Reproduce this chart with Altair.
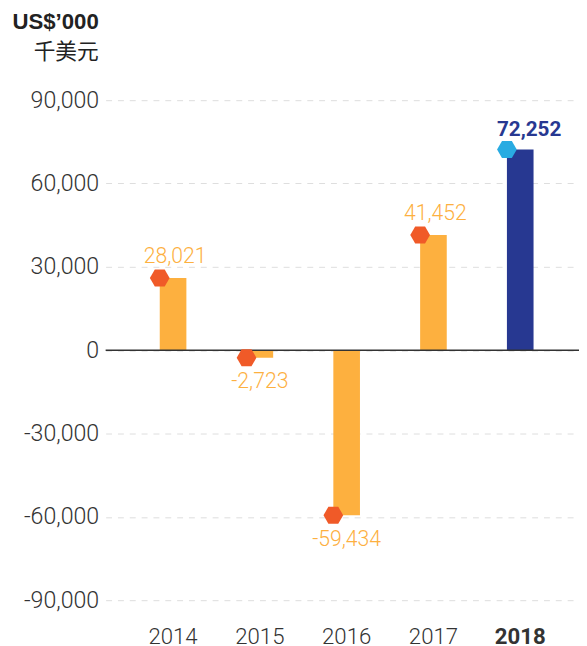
import altair as alt
import pandas as pd

years = ["2014", "2015", "2016", "2017", "2018"]
values = [26000, -2723, -59434, 41452, 72252]
labels = ["28,021", "-2,723", "-59,434", "41,452", "72,252"]
current = [False, False, False, False, True]
y_ticks = [-90000, -60000, -30000, 0, 30000, 60000, 90000]

ORANGE = "#FDB03F"
RED = "#F05A28"
NAVY = "#273891"
BLUE = "#29ABE2"
TXT = "#333333"
FONT = "Roboto"

df = pd.DataFrame({"year": years, "value": values, "label": labels, "current": current})

HEX = "M-1,0 L-0.5,-0.866 L0.5,-0.866 L1,0 L0.5,0.866 L-0.5,0.866 Z"

x = alt.X(
    "year:N", sort=years, title=None,
    scale=alt.Scale(paddingInner=0, paddingOuter=0.227, align=0.61),
    axis=alt.Axis(
        labelAngle=0, domain=False, ticks=False, grid=False, labelPadding=26,
        labelFont=FONT, labelFontSize=22.5, labelColor=TXT,
        labelFontWeight=alt.condition("datum.value == '2018'", alt.value("bold"), alt.value(300)),
    ),
)
y = alt.Y(
    "value:Q", title=None,
    scale=alt.Scale(domain=[-90000, 90000], nice=False, zero=False),
    axis=alt.Axis(
        values=y_ticks, domain=False, ticks=False, labelPadding=7,
        labelExpr="(datum.value < 0 ? '-' : '') + format(abs(datum.value), ',')",
        labelFont=FONT, labelFontSize=23.5, labelFontWeight=300, labelColor=TXT,
        grid=True, gridDash=[6, 6], gridColor="#dddddd", gridWidth=1,
    ),
)

base = alt.Chart(df)

bars = base.mark_bar(size=27).encode(
    x=x, y=y,
    color=alt.condition("datum.current", alt.value(NAVY), alt.value(ORANGE)),
)

zero = alt.Chart(pd.DataFrame({"z": [0]})).mark_rule(color="#333333", strokeWidth=1.5).encode(
    y=alt.Y("z:Q")
)

hexes = base.mark_point(shape=HEX, filled=True, size=400, opacity=1, xOffset=-13.5).encode(
    x=x, y=y,
    color=alt.condition("datum.current", alt.value(BLUE), alt.value(RED)),
)

lab_pos = base.transform_filter("datum.value >= 0 && !datum.current").mark_text(
    baseline="bottom", dy=-10, dx=2, font=FONT, fontSize=21.5, fontWeight=300, color=ORANGE
).encode(x=x, y=y, text="label:N")

lab_neg = base.transform_filter("datum.value < 0").mark_text(
    baseline="top", dy=14, font=FONT, fontSize=21.5, fontWeight=300, color=ORANGE
).encode(x=x, y=y, text="label:N")

lab_cur = base.transform_filter("datum.current").mark_text(
    baseline="bottom", dy=-10, dx=9, font=FONT, fontSize=21, fontWeight="bold", color=NAVY
).encode(x=x, y=y, text="label:N")

chart = alt.layer(bars, zero, hexes, lab_pos, lab_neg, lab_cur).properties(
    width=480, height=507,
    autosize=alt.AutoSizeParams(type="none"),
    padding={"left": 99, "top": 89, "right": 0, "bottom": 42},
    title=alt.TitleParams(
        text="US$’000", subtitle="千美元", anchor="start", frame="group", align="right",
        dx=-7, offset=26, font="Liberation Sans", fontSize=22.5, fontWeight="bold", color="#222222",
        subtitleFont="Noto Sans CJK TC", subtitleFontSize=22, subtitleColor="#222222",
        subtitlePadding=9,
    ),
).configure_view(stroke=None)

chart.save("out.html", embed_options={"renderer": "svg", "actions": False})
